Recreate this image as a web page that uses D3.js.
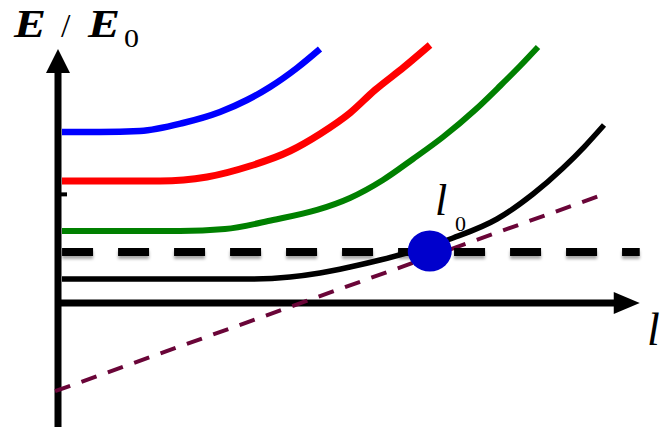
<!DOCTYPE html>
<html>
<head>
<meta charset="utf-8">
<script src="https://cdn.jsdelivr.net/npm/d3@7"></script>
<style>
  html, body { margin: 0; padding: 0; background: #fff; }
  svg { display: block; }
</style>
</head>
<body>
<svg id="chart" width="664" height="429"></svg>
<script>
// ---- data (l in arbitrary units, E/E0) ----
const blueL  = [0.069, 0.724, 1.414, 2.155, 2.793, 3.259, 3.655, 4.121, 4.517];
const blueE  = [3.353, 3.353, 3.373, 3.529, 3.745, 3.980, 4.235, 4.608, 4.980];
const redL   = [0.069, 1.759, 2.569, 3.310, 4.000, 4.517, 5.034, 5.466, 5.966, 6.414];
const redE   = [2.392, 2.392, 2.471, 2.686, 2.980, 3.314, 3.725, 4.176, 4.627, 5.059];
const greenL = [0.069, 2.103, 2.879, 3.707, 4.466, 5.034, 5.603, 6.121, 6.638, 7.190, 7.621, 7.966, 8.276];
const greenE = [1.412, 1.412, 1.451, 1.627, 1.824, 2.059, 2.412, 2.824, 3.255, 3.784, 4.255, 4.647, 5.020];
const blackL = [0.069, 3.310, 4.000, 4.517, 5.034, 5.552, 6.069, 6.810, 7.569, 8.190, 8.707, 9.086, 9.414];
const blackE = [0.471, 0.471, 0.510, 0.588, 0.706, 0.843, 1.000, 1.275, 1.647, 2.137, 2.647, 3.078, 3.490];
const tangentL = [-0.05, 9.48];
const tangentE = [-1.73, 2.16];
const thresholdE = 1.0;
const thresholdL = [0.07, 10.03];
const l0 = 6.41;
const axisLRange = [0, 10.03];
const axisERange = [-2.43, 4.98];
const yTickE = [2.13];

// ---- scales ----
const x = d3.scaleLinear().domain([0, 10]).range([58, 638]);
const y = d3.scaleLinear().domain([0, 1]).range([303, 252]);

const svg = d3.select("#chart");
const defs = svg.append("defs");
const f = defs.append("filter").attr("id", "shadow")
  .attr("filterUnits", "userSpaceOnUse")
  .attr("x", 0).attr("y", 0).attr("width", 664).attr("height", 429);
f.append("feDropShadow").attr("dx", 0).attr("dy", 3).attr("stdDeviation", 1.8)
  .attr("flood-color", "#000").attr("flood-opacity", 0.35);

const line = d3.line().x(d => x(d[0])).y(d => y(d[1])).curve(d3.curveMonotoneX);
const zip = (a, b) => a.map((v, i) => [v, b[i]]);

// ---- axes ----
svg.append("line")
  .attr("x1", x(0)).attr("x2", x(0))
  .attr("y1", y(axisERange[0])).attr("y2", y(axisERange[1]) + 20)
  .attr("stroke", "#000").attr("stroke-width", 7);
const yt = y(axisERange[1]);
svg.append("path")
  .attr("d", `M${x(0) - 12},${yt + 24} L${x(0)},${yt} L${x(0) + 12},${yt + 24} Z`)
  .attr("fill", "#000");
svg.append("line")
  .attr("x1", x(0) - 3).attr("x2", x(axisLRange[1]) - 22)
  .attr("y1", y(0)).attr("y2", y(0))
  .attr("stroke", "#000").attr("stroke-width", 7);
const xt = x(axisLRange[1]);
svg.append("path")
  .attr("d", `M${xt - 26},${y(0) - 11} L${xt},${y(0)} L${xt - 26},${y(0) + 11} Z`)
  .attr("fill", "#000");
svg.selectAll(".ytick").data(yTickE).enter().append("line")
  .attr("x1", x(0)).attr("x2", x(0) + 9)
  .attr("y1", d => y(d)).attr("y2", d => y(d))
  .attr("stroke", "#000").attr("stroke-width", 4);

// ---- tangent dashed line ----
svg.append("path")
  .datum(zip(tangentL, tangentE))
  .attr("d", d3.line().x(d => x(d[0])).y(d => y(d[1])))
  .attr("fill", "none").attr("stroke", "#6a0538").attr("stroke-width", 4)
  .attr("stroke-dasharray", "16,12");

// ---- threshold dashed line ----
svg.append("line")
  .attr("x1", x(thresholdL[0])).attr("x2", x(thresholdL[1]))
  .attr("y1", y(thresholdE)).attr("y2", y(thresholdE))
  .attr("stroke", "#000").attr("stroke-width", 8)
  .attr("stroke-dasharray", "31,25")
  .attr("filter", "url(#shadow)");

// ---- curves ----
const series = [
  { L: blackL, E: blackE, color: "#000000", w: 5.5 },
  { L: greenL, E: greenE, color: "#008000", w: 6 },
  { L: redL,   E: redE,   color: "#ff0000", w: 7 },
  { L: blueL,  E: blueE,  color: "#0000ff", w: 6.5 }
];
svg.selectAll(".curve").data(series).enter().append("path")
  .attr("class", "curve")
  .attr("d", d => line(zip(d.L, d.E)))
  .attr("fill", "none")
  .attr("stroke", d => d.color)
  .attr("stroke-width", d => d.w)
  .attr("stroke-linejoin", "round");

// ---- l0 point ----
svg.append("ellipse")
  .attr("cx", x(l0)).attr("cy", y(thresholdE) - 1)
  .attr("rx", 22).attr("ry", 20.5)
  .attr("fill", "#0000cc");

// ---- text ----
const serif = "'Liberation Serif', 'Times New Roman', serif";
const T = (tx, ty, s, size, style, weight, len) => {
  const t = svg.append("text")
    .attr("x", tx).attr("y", ty).text(s)
    .attr("font-family", serif).attr("font-size", size)
    .attr("font-style", style).attr("font-weight", weight).attr("fill", "#000");
  if (len) t.attr("textLength", len).attr("lengthAdjust", "spacingAndGlyphs");
  return t;
};

T(14, 37, "E", 40, "italic", "bold", 32);
T(61, 37, "/", 34, "normal", "normal");
T(88, 37, "E", 40, "italic", "bold", 32);
T(124, 47, "0", 25, "normal", "normal", 15);

T(435, 215, "l", 44, "italic", "normal");
T(455, 231, "0", 22, "normal", "normal");

T(647, 345, "l", 46, "italic", "normal");
</script>
</body>
</html>
